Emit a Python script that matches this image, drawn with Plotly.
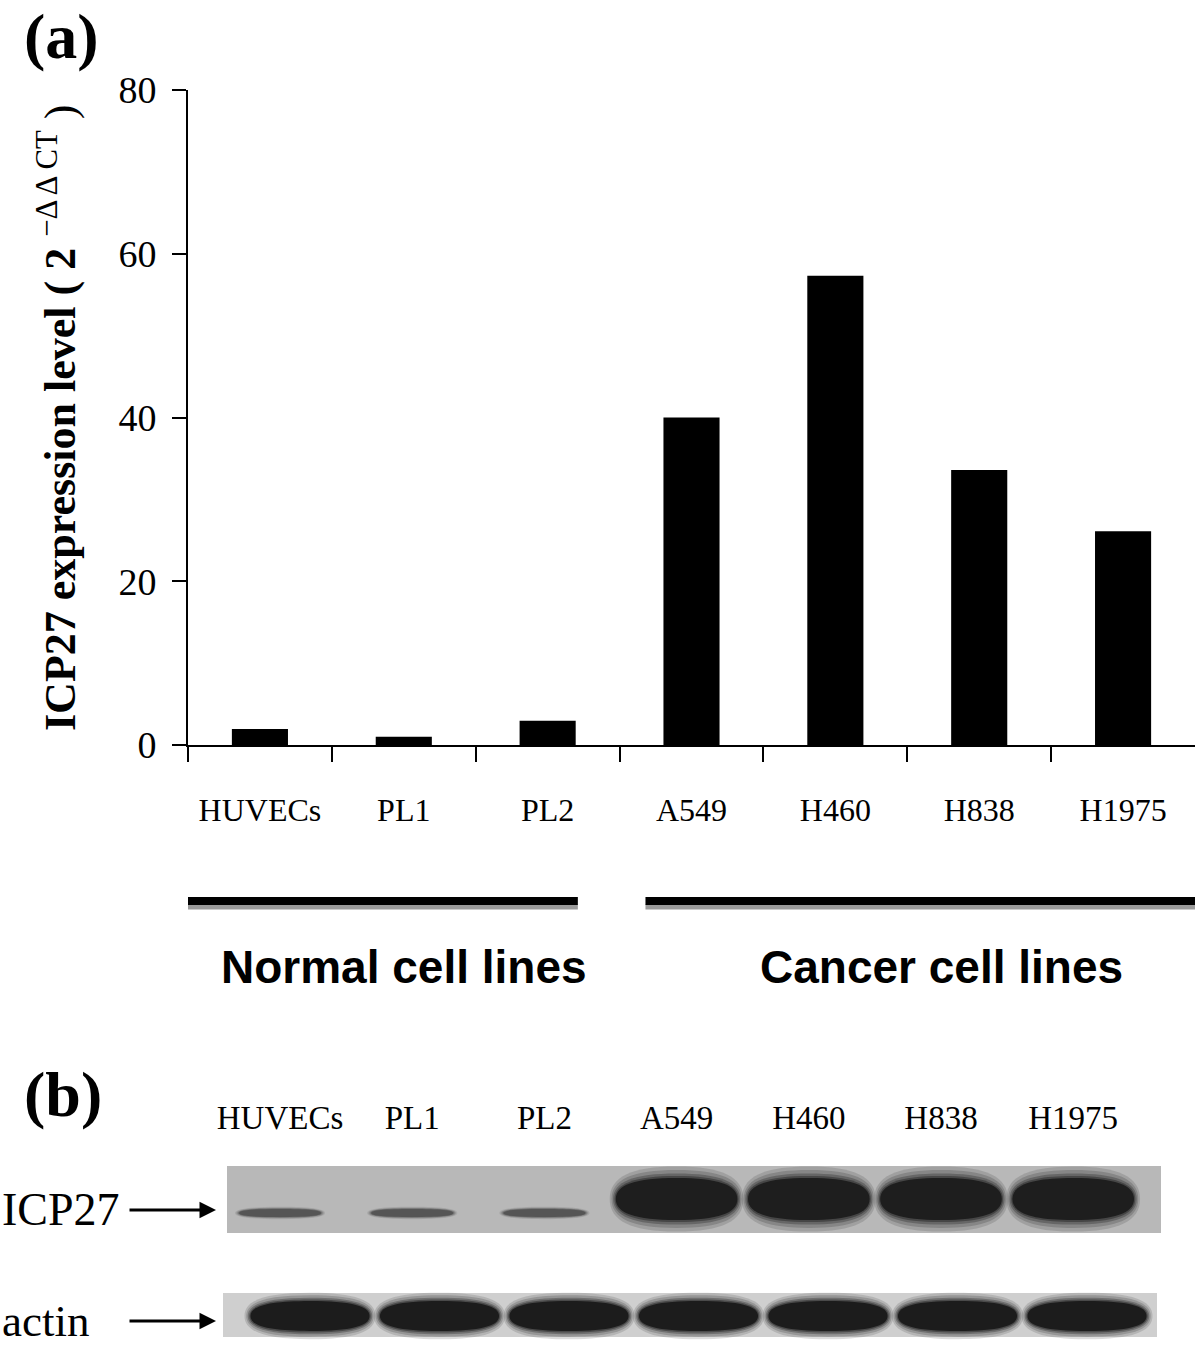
import plotly.graph_objects as go

# ---------------- data ----------------
cell_lines = ["HUVECs", "PL1", "PL2", "A549", "H460", "H838", "H1975"]
expression = [1.95, 1.0, 2.95, 40.0, 57.3, 33.6, 26.1]
y_ticks = [0, 20, 40, 60, 80]
group_names = ["Normal cell lines", "Cancer cell lines"]
group_members = [["HUVECs", "PL1", "PL2"], ["A549", "H460", "H838", "H1975"]]
# western blot: relative band strength per lane (qualitative reading)
icp27_band = [0.2, 0.2, 0.2, 1.0, 1.0, 1.0, 1.0]
actin_band = [1.0, 1.0, 1.0, 1.0, 1.0, 1.0, 1.0]

W, H = 1200, 1346
SERIF = "Liberation Serif, Times New Roman, serif"
SANS = "Liberation Sans, Arial, sans-serif"


def px(xp):
    return xp / W


def py(yp):
    return 1 - yp / H


fig = go.Figure()

fig.add_trace(go.Bar(
    x=cell_lines, y=expression, width=0.39,
    marker=dict(color="black", line=dict(width=0)),
    xaxis="x", yaxis="y", showlegend=False,
))

# lane labels for blot (on blot axis)
fig.add_trace(go.Scatter(
    x=list(range(len(cell_lines))), y=[py(1121)] * len(cell_lines),
    mode="text", text=cell_lines,
    textfont=dict(family=SERIF, size=33, color="black"),
    xaxis="x2", yaxis="y2", showlegend=False, hoverinfo="skip",
))

shapes = []
annotations = []

# group lines under the bar chart
group_pad = [(-0.52, 0.21), (-0.32, 0.53)]
for members, (p0, p1) in zip(group_members, group_pad):
    i0 = cell_lines.index(members[0]) + p0
    i1 = cell_lines.index(members[-1]) + p1
    shapes.append(dict(type="line", xref="x", yref="paper", x0=i0, x1=i1,
                       y0=py(907), y1=py(907), line=dict(color="#9a9a9a", width=5)))
    shapes.append(dict(type="line", xref="x", yref="paper", x0=i0, x1=i1,
                       y0=py(901), y1=py(901), line=dict(color="black", width=8)))

for name, xc in zip(group_names, [404, 941]):
    annotations.append(dict(text=f"<b>{name}</b>", x=px(xc), y=py(967), xref="paper",
                            yref="paper", xanchor="center", yanchor="middle",
                            showarrow=False,
                            font=dict(family=SANS, size=46, color="black")))


def band_path(cx, hw, cy, hh, k=0.68):
    l, r, t, b = cx - hw, cx + hw, cy + hh, cy - hh
    return (f"M{l},{cy} C{l},{cy + hh * k} {cx - hw * k},{t} {cx},{t} "
            f"C{cx + hw * k},{t} {r},{cy + hh * k} {r},{cy} "
            f"C{r},{cy - hh * k} {cx + hw * k},{b} {cx},{b} "
            f"C{cx - hw * k},{b} {l},{cy - hh * k} {l},{cy} Z")


def soft_band(xref, cx, hw, cy, hh, col):
    layers = [(1.10, 1.55, 0.15), (1.07, 1.38, 0.2), (1.045, 1.22, 0.3),
              (1.02, 1.1, 0.45), (1.0, 1.0, 1.0)]
    for sw, sh, op in layers:
        shapes.append(dict(type="path", xref=xref, yref="paper",
                           path=band_path(cx, hw * sw, cy, hh * sh),
                           fillcolor=col, opacity=op, line=dict(width=0)))


# blot membranes
shapes.append(dict(type="rect", xref="paper", yref="paper", x0=px(227), x1=px(1161),
                   y0=py(1233), y1=py(1166), fillcolor="#b8b8b8", line=dict(width=0),
                   layer="below"))
shapes.append(dict(type="rect", xref="paper", yref="paper", x0=px(223), x1=px(1157),
                   y0=py(1337), y1=py(1293), fillcolor="#cfcfcf", line=dict(width=0),
                   layer="below"))

# ICP27 bands
for i, s in enumerate(icp27_band):
    if s > 0.5:
        soft_band("x2", i, 0.46, py(1199), 21 / H, "#1e1e1e")
    else:
        soft_band("x2", i, 0.31, py(1213), 4 / H, "#555555")

# actin bands
for i, s in enumerate(actin_band):
    soft_band("x3", i, 0.46 * s, py(1316), 15 / H, "#1c1c1c")

# blot row labels and arrows
annotations.append(dict(text="ICP27", x=0, y=py(1209), xref="paper", yref="paper",
                        xanchor="left", yanchor="middle", showarrow=False,
                        font=dict(family=SERIF, size=46, color="black")))
annotations.append(dict(text="actin", x=0, y=py(1321), xref="paper", yref="paper",
                        xanchor="left", yanchor="middle", showarrow=False,
                        font=dict(family=SERIF, size=45, color="black")))
for yy in [1210, 1321]:
    annotations.append(dict(text="", x=px(216), y=py(yy), xref="paper", yref="paper",
                            ax=-88, ay=0, showarrow=True, arrowhead=2, arrowsize=1.1,
                            arrowwidth=3, arrowcolor="black"))

# panel letters
annotations.append(dict(text="<b>(a)</b>", x=px(61), y=py(36), xref="paper", yref="paper",
                        xanchor="center", yanchor="middle", showarrow=False,
                        font=dict(family=SERIF, size=64, color="black")))
annotations.append(dict(text="<b>(b)</b>", x=px(63), y=py(1094), xref="paper", yref="paper",
                        xanchor="center", yanchor="middle", showarrow=False,
                        font=dict(family=SERIF, size=64, color="black")))

# y-axis title
annotations.append(dict(text="<b>ICP27 expression level ( 2 </b><sup>\u2212\u0394 \u0394 CT</sup> )",
                        x=px(57), y=py(418), xref="paper", yref="paper", textangle=-90,
                        xanchor="center", yanchor="middle",
                        showarrow=False, font=dict(family=SERIF, size=44, color="black")))

fig.update_layout(
    width=W, height=H, autosize=False,
    margin=dict(l=0, r=0, t=0, b=0, pad=0),
    paper_bgcolor="white", plot_bgcolor="rgba(0,0,0,0)",
    xaxis=dict(
        type="category", categoryorder="array", categoryarray=cell_lines,
        domain=[px(188), px(1195)], range=[-0.5, 6.5], anchor="y", automargin=False,
        tickson="boundaries", ticks="outside", ticklen=15, tickwidth=2, tickcolor="black",
        showline=True, linewidth=2, linecolor="black", showgrid=False,
        tickfont=dict(family=SERIF, size=32, color="black"), ticklabelstandoff=36,
        fixedrange=True,
    ),
    yaxis=dict(
        domain=[py(745), py(90)], range=[0, 80], anchor="x", automargin=False,
        tickmode="array", tickvals=y_ticks, ticks="outside", ticklen=14, tickwidth=2,
        tickcolor="black", showline=True, linewidth=2, linecolor="black",
        showgrid=False, zeroline=False, ticklabelstandoff=8,
        tickfont=dict(family=SERIF, size=38, color="black"), fixedrange=True,
    ),
    xaxis2=dict(domain=[0, 1], range=[-280 / 132.2, (W - 280) / 132.2], anchor="y2",
                visible=False, fixedrange=True, automargin=False),
    yaxis2=dict(domain=[0, 1], range=[0, 1], anchor="x2", visible=False,
                fixedrange=True, automargin=False),
    xaxis3=dict(domain=[0, 1], range=[-310 / 129.5, (W - 310) / 129.5], anchor="y2",
                overlaying="x2", visible=False, fixedrange=True, automargin=False),
    shapes=shapes,
    annotations=annotations,
)

fig.write_html("out.html", config={"displayModeBar": False},
               post_script="document.body.style.margin='0';")
